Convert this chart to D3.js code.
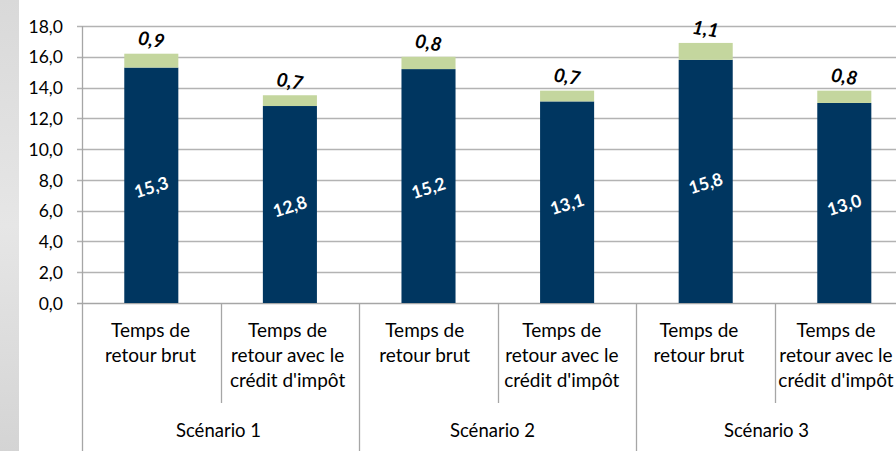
<!DOCTYPE html>
<html><head><meta charset="utf-8">
<script src="https://cdn.jsdelivr.net/npm/d3@7"></script>
<style>body{margin:0;background:#fff}svg{display:block}</style>
</head><body>
<script>
const categories = ["Temps de|retour brut","Temps de|retour avec le|crédit d'impôt","Temps de|retour brut","Temps de|retour avec le|crédit d'impôt","Temps de|retour brut","Temps de|retour avec le|crédit d'impôt"];
const scenarios = ["Scénario 1","Scénario 2","Scénario 3"];
const baseValues = [15.3,12.8,15.2,13.1,15.8,13.0];
const creditValues = [0.9,0.7,0.8,0.7,1.1,0.8];
const yTicks = [0,2,4,6,8,10,12,14,16,18];

const W=896,H=451;
const svg=d3.select("body").append("svg").attr("width",W).attr("height",H);
const font="Lato, 'Open Sans', sans-serif";

// textured left strip
const defs=svg.append("defs");
const g1=defs.append("linearGradient").attr("id","strip").attr("x1",0).attr("x2",0).attr("y1",0).attr("y2",1);
g1.append("stop").attr("offset","0").attr("stop-color","#d9d9d9");
g1.append("stop").attr("offset","0.5").attr("stop-color","#e6e6e6");
g1.append("stop").attr("offset","1").attr("stop-color","#d4d4d4");
svg.append("rect").attr("x",0).attr("y",0).attr("width",19).attr("height",H).attr("fill","url(#strip)");

const x0=82, step=138.6;
const x=d3.scaleBand().domain(d3.range(6)).range([x0,x0+6*step]).paddingInner(0.61).paddingOuter(0.305);
const y=d3.scaleLinear().domain([0,18]).range([303,26]);
// label positions (Excel lays multi-level labels slightly tighter than the bars)
const xl=d3.scaleLinear().domain([0,5]).range([150.5,836]);
const xs=d3.scaleLinear().domain([0,2]).range([218.5,766.5]);

// grid
svg.append("g").selectAll("line").data(yTicks).join("line")
  .attr("x1",77).attr("x2",W).attr("y1",d=>Math.round(y(d))+0.5).attr("y2",d=>Math.round(y(d))+0.5)
  .attr("stroke",d=>d===0?"#a6a6a6":"#b3b3b3").attr("stroke-width",1.3);

// y axis
const yAxis=d3.axisLeft(y).tickValues(yTicks).tickSize(0).tickPadding(0)
  .tickFormat(d=>d3.format(".1f")(d).replace(".",","));
const ya=svg.append("g").attr("transform","translate(63,0)").call(yAxis);
ya.select(".domain").remove();
ya.selectAll("text").attr("font-family",font).attr("font-size",17.5).attr("fill","#000").attr("dy","0.35em");
svg.append("line").attr("x1",x0+0.5).attr("x2",x0+0.5).attr("y1",26).attr("y2",H).attr("stroke","#a6a6a6").attr("stroke-width",1.3);

// bars
const navy="#003660", green="#c4d69e";
svg.append("g").selectAll("rect").data(baseValues).join("rect")
  .attr("x",(d,i)=>x(i)).attr("width",x.bandwidth())
  .attr("y",d=>y(d)).attr("height",d=>y(0)-y(d)).attr("fill",navy);
svg.append("g").selectAll("rect").data(creditValues).join("rect")
  .attr("x",(d,i)=>x(i)).attr("width",x.bandwidth())
  .attr("y",(d,i)=>y(baseValues[i]+d)).attr("height",(d,i)=>y(baseValues[i])-y(baseValues[i]+d)).attr("fill",green);

const fmt=v=>d3.format(".1f")(v).replace(".",",");
// navy labels
svg.append("g").selectAll("text").data(baseValues).join("text")
  .attr("transform",(d,i)=>`translate(${x(i)+x.bandwidth()/2},${y(d/2)+2}) rotate(-17)`)
  .attr("text-anchor","middle").attr("dy","0.35em")
  .attr("font-family",font).attr("font-weight","bold").attr("font-size",17.5).attr("fill","#fff").text(fmt);
// green labels
svg.append("g").selectAll("text").data(creditValues).join("text")
  .attr("transform",(d,i)=>`translate(${x(i)+x.bandwidth()/2},${y(baseValues[i]+d)-14}) rotate(9)`)
  .attr("text-anchor","middle").attr("dy","0.35em")
  .attr("font-family",font).attr("font-weight","bold").attr("font-style","italic").attr("font-size",19).attr("fill","#000").text(fmt);

// category axis
const ax=svg.append("g");
d3.range(1,6).forEach(i=>{
  const xx=Math.round(x0+i*step)+0.5;
  ax.append("line").attr("x1",xx).attr("x2",xx).attr("y1",303).attr("y2",i%2===0?H:403).attr("stroke","#a6a6a6").attr("stroke-width",1.3);
});
categories.forEach((c,i)=>{
  const t=ax.append("text").attr("font-family",font).attr("font-size",19).attr("text-anchor","middle").attr("fill","#000");
  c.split("|").forEach((ln,j)=>t.append("tspan").attr("x",xl(i)).attr("y",337+j*25).text(ln));
});
scenarios.forEach((s,i)=>{
  ax.append("text").attr("x",xs(i)).attr("y",437).attr("font-family",font).attr("font-size",18.5)
    .attr("text-anchor","middle").attr("fill","#000").text(s);
});
</script>
</body></html>
